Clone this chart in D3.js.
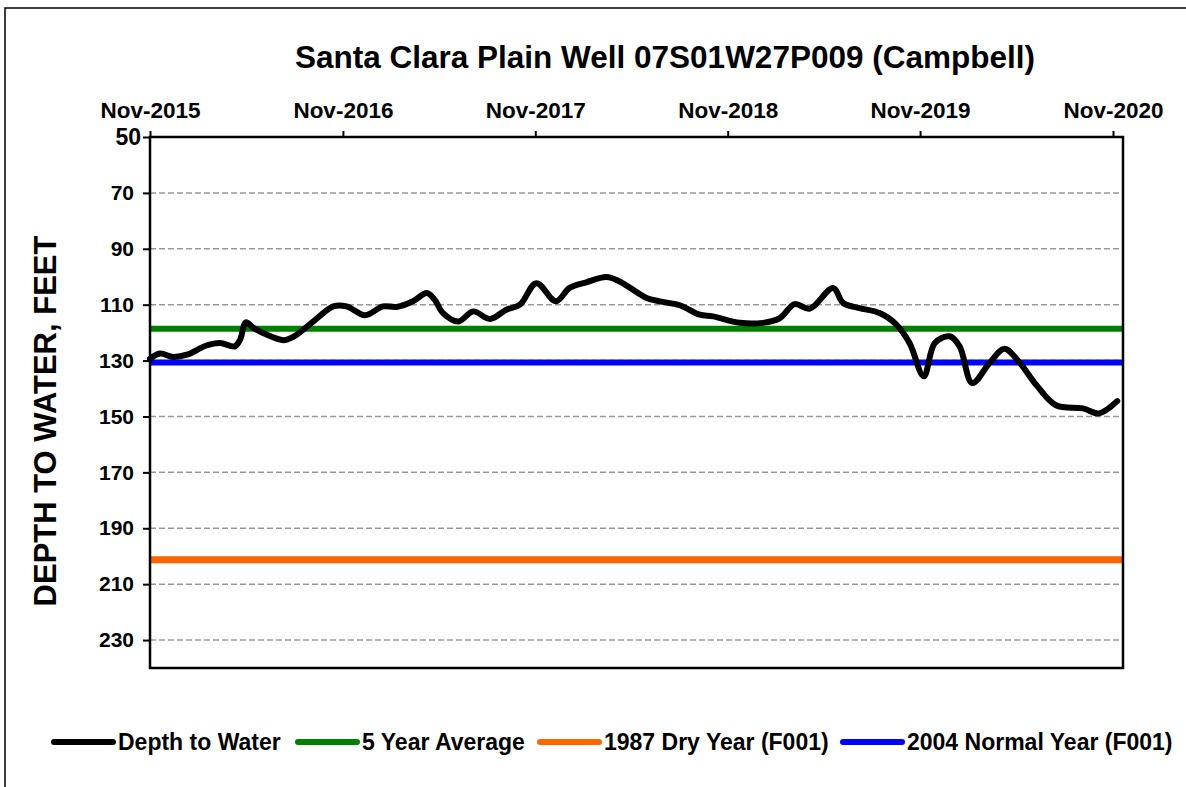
<!DOCTYPE html>
<html lang = "en">
    <head>
        <meta charset = "UTF-8">
        <meta name = "viewport" content = "width = device-width, initial-scale = 1.0">
        <script src="https://cdn.jsdelivr.net/npm/d3@7"></script>
        <title>Santa Clara Plain Well</title>
        <style>
            body{
                margin: 0;
                background: white;
                font-family: "Liberation Sans", Arial, sans-serif;
            }
            svg {
                display: block;
            }
            text {
                font-weight: bold;
                fill: black;
            }
            .grid line {
                stroke: #999999;
                stroke-width: 1.5px;
                stroke-dasharray: 6, 3;
            }
        </style>
    </head>

    <body>
    <script>
        //data
        const dates = ["2015-11-01", "2015-11-20", "2015-12-15", "2016-01-10", "2016-02-16", "2016-03-13",
            "2016-04-10", "2016-04-20", "2016-05-01", "2016-05-15", "2016-06-09", "2016-07-11", "2016-07-30",
            "2016-09-06", "2016-10-14", "2016-11-08", "2016-12-13", "2017-01-16", "2017-02-11", "2017-03-14",
            "2017-04-09", "2017-04-24", "2017-05-10", "2017-06-08", "2017-07-06", "2017-08-07", "2017-09-07",
            "2017-10-03", "2017-11-03", "2017-12-10", "2018-01-05", "2018-02-06", "2018-03-16", "2018-04-10",
            "2018-05-31", "2018-06-25", "2018-08-02", "2018-09-09", "2018-10-04", "2018-11-24", "2019-01-07",
            "2019-02-08", "2019-03-08", "2019-04-06", "2019-05-20", "2019-06-08", "2019-07-09", "2019-08-16",
            "2019-09-17", "2019-10-12", "2019-11-08", "2019-11-29", "2019-12-27", "2020-01-15", "2020-02-08",
            "2020-03-12", "2020-04-09", "2020-05-08", "2020-06-08", "2020-07-16", "2020-09-05", "2020-10-05",
            "2020-11-09"]
        const depths = [129.4, 127.5, 128.7, 127.9, 124.6, 123.7,
            124.9, 122.5, 116.3, 118.3, 120.7, 122.7, 121.5,
            116.0, 110.6, 110.6, 113.8, 110.6, 110.8, 108.8,
            105.8, 108.2, 113.0, 116.0, 112.4, 115.1, 111.8,
            110.0, 102.3, 108.8, 104.0, 102.0, 100.1, 101.7,
            107.6, 108.8, 110.2, 113.6, 114.2, 116.5, 116.5,
            114.8, 109.8, 111.4, 104.0, 109.4, 111.2, 113.0,
            117.1, 123.7, 135.6, 123.7, 121.3, 124.9, 138.0,
            130.8, 125.8, 130.8, 138.6, 146.0, 147.1, 148.9,
            144.5]
        //reference levels
        const refNames = ["5 Year Average", "1987 Dry Year (F001)", "2004 Normal Year (F001)"]
        const refValues = [118.6, 201.3, 130.7]
        const refColors = ["#008000", "#ff6600", "#0000ff"]
        //axis ticks
        const yTicks = [50, 70, 90, 110, 130, 150, 170, 190, 210, 230]
        const xTickYears = [2015, 2016, 2017, 2018, 2019, 2020]
        //legend entries
        const legendNames = ["Depth to Water", "5 Year Average", "1987 Dry Year (F001)", "2004 Normal Year (F001)"]
        const legendColors = ["#000000", "#008000", "#ff6600", "#0000ff"]

        const page_dims = {
            width: 1186,
            height: 787
        };
        const plot = {left: 150, right: 1123, top: 137, bottom: 668}

        const parseDate = d3.timeParse("%Y-%m-%d")
        const series = dates.map((d, i) => ({date: parseDate(d), value: depths[i]}))

        //scales
        const xScale = d3.scaleTime()
            .domain([new Date(2015, 10, 1), new Date(2020, 10, 20)])
            .range([plot.left, plot.right])
        const yScale = d3.scaleLinear()
            .domain([50, 240])
            .range([plot.top, plot.bottom])

        let svg = d3.select("body").append("svg")
            .attr("width", page_dims.width)
            .attr("height", page_dims.height)

        //outer chart border
        svg.append("rect")
            .attr("x", 5)
            .attr("y", 8)
            .attr("width", 1300)
            .attr("height", 900)
            .attr("fill", "white")
            .attr("stroke", "black")
            .attr("stroke-width", 1.5)

        //title
        svg.append("text")
            .attr("x", 665)
            .attr("y", 68)
            .attr("text-anchor", "middle")
            .style("font-size", "31.5px")
            .text("Santa Clara Plain Well 07S01W27P009 (Campbell)")

        //gridlines
        svg.append("g")
            .attr("class", "grid")
            .selectAll("line")
            .data(yTicks.slice(1))
            .enter()
            .append("line")
            .attr("x1", plot.left)
            .attr("x2", plot.right)
            .attr("y1", d => yScale(d))
            .attr("y2", d => yScale(d))

        //y axis
        const yAxis = d3.axisLeft(yScale)
            .tickValues(yTicks)
            .tickSize(7)
            .tickPadding(9)
        const yG = svg.append("g")
            .attr("transform", `translate(${plot.left},0)`)
            .call(yAxis)
        yG.select(".domain").remove()
        yG.selectAll(".tick line").attr("stroke", "black").attr("stroke-width", 2)
        yG.selectAll(".tick text")
            .style("font-size", d => d == 50 ? "23px" : "21px")
            .style("font-family", "'Liberation Sans', Arial, sans-serif")
            .style("font-weight", "bold")
            .attr("x", d => d == 50 ? -9 : -16)
            .attr("fill", "black")

        //x axis on top
        const xAxis = d3.axisTop(xScale)
            .tickValues(xTickYears.map(y => new Date(y, 10, 1)))
            .tickFormat(d3.timeFormat("%b-%Y"))
            .tickSize(6)
            .tickPadding(13)
        const xG = svg.append("g")
            .attr("transform", `translate(0,${plot.top})`)
            .call(xAxis)
        xG.select(".domain").remove()
        xG.selectAll(".tick line").attr("stroke", "black").attr("stroke-width", 2)
        xG.selectAll(".tick text")
            .style("font-size", "22.5px")
            .style("font-family", "'Liberation Sans', Arial, sans-serif")
            .style("font-weight", "bold")
            .attr("fill", "black")

        //reference lines
        svg.selectAll(".ref")
            .data(refValues)
            .enter()
            .append("line")
            .attr("class", "ref")
            .attr("x1", plot.left)
            .attr("x2", plot.right)
            .attr("y1", d => yScale(d))
            .attr("y2", d => yScale(d))
            .attr("stroke", (d, i) => refColors[i])
            .attr("stroke-width", (d, i) => i == 1 ? 7 : 6)

        //depth line
        const lineGen = d3.line()
            .x(d => xScale(d.date))
            .y(d => yScale(d.value))
            .curve(d3.curveCatmullRom.alpha(0.5))
        svg.append("path")
            .datum(series)
            .attr("d", lineGen)
            .attr("fill", "none")
            .attr("stroke", "black")
            .attr("stroke-width", 6)
            .attr("stroke-linejoin", "round")
            .attr("stroke-linecap", "round")

        //plot frame
        svg.append("rect")
            .attr("x", plot.left)
            .attr("y", plot.top)
            .attr("width", plot.right - plot.left)
            .attr("height", plot.bottom - plot.top)
            .attr("fill", "none")
            .attr("stroke", "black")
            .attr("stroke-width", 2.5)

        //y axis title
        svg.append("text")
            .attr("transform", "translate(56,421) rotate(-90)")
            .attr("text-anchor", "middle")
            .style("font-size", "31px")
            .text("DEPTH TO WATER, FEET")

        //legend
        const legendX = [54, 298, 540, 843]
        const legend = svg.selectAll(".legend")
            .data(legendNames)
            .enter()
            .append("g")
            .attr("class", "legend")
            .attr("transform", (d, i) => `translate(${legendX[i]},742)`)
        legend.append("line")
            .attr("x1", 0)
            .attr("x2", 59)
            .attr("stroke", (d, i) => legendColors[i])
            .attr("stroke-width", 6)
            .attr("stroke-linecap", "round")
        legend.append("text")
            .attr("x", 64)
            .attr("y", 8)
            .style("font-size", "23px")
            .text(d => d)
    </script>
    </body>
</html>
